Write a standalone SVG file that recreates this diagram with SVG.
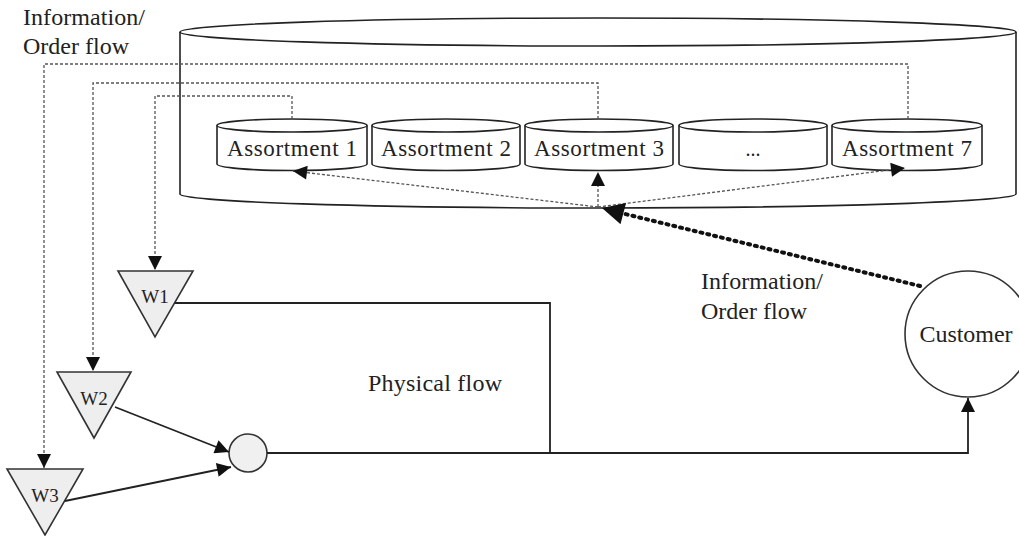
<svg xmlns="http://www.w3.org/2000/svg" width="1019" height="536" viewBox="0 0 1019 536">
<defs>
<style>
.t{font-family:"Liberation Serif","Times New Roman",serif;fill:#222;}
.s{stroke:#222;stroke-width:1.6;fill:#fff;}
.dash{stroke:#555;stroke-width:1.3;fill:none;stroke-dasharray:3 2;}
.solid{stroke:#222;stroke-width:1.8;fill:none;}
.dot{stroke:#111;stroke-width:4;fill:none;stroke-dasharray:2 5;stroke-linecap:round;}
.tri{fill:#eeeeee;stroke:#333;stroke-width:1.6;}
</style>
<marker id="ah" viewBox="0 0 10 10" refX="10" refY="5" markerWidth="16" markerHeight="14" markerUnits="userSpaceOnUse" orient="auto"><path d="M0,0L10,5L0,10z" fill="#111"/></marker>
<marker id="ahb" viewBox="0 0 10 10" refX="10" refY="5" markerWidth="26" markerHeight="22" markerUnits="userSpaceOnUse" orient="auto"><path d="M0,0L10,5L0,10z" fill="#111"/></marker>
</defs>
<g id="warehouse-db">
<path class="s" d="M180,32 V194 A418,14 0 0 0 1016,194 V32"/>
<ellipse class="s" cx="598" cy="32" rx="418" ry="14"/>
</g>
<g id="assortment1">
<path class="s" d="M217,125.5 V164 A75,6.5 0 0 0 367,164 V125.5"/>
<ellipse class="s" cx="292" cy="125.5" rx="75" ry="6.5"/>
<text class="t" x="292" y="156" font-size="23" text-anchor="middle" textLength="130">Assortment 1</text>
</g>
<g id="assortment2">
<path class="s" d="M372,125.5 V164 A74,6.5 0 0 0 520,164 V125.5"/>
<ellipse class="s" cx="446" cy="125.5" rx="74" ry="6.5"/>
<text class="t" x="446" y="156" font-size="23" text-anchor="middle" textLength="130">Assortment 2</text>
</g>
<g id="assortment3">
<path class="s" d="M525,125.5 V164 A74,6.5 0 0 0 673,164 V125.5"/>
<ellipse class="s" cx="599" cy="125.5" rx="74" ry="6.5"/>
<text class="t" x="599" y="156" font-size="23" text-anchor="middle" textLength="130">Assortment 3</text>
</g>
<g id="assortment-more">
<path class="s" d="M679,125.5 V164 A74,6.5 0 0 0 827,164 V125.5"/>
<ellipse class="s" cx="753" cy="125.5" rx="74" ry="6.5"/>
<text class="t" x="753" y="156" font-size="20" text-anchor="middle">...</text>
</g>
<g id="assortment7">
<path class="s" d="M832,125.5 V164 A75,6.5 0 0 0 982,164 V125.5"/>
<ellipse class="s" cx="907" cy="125.5" rx="75" ry="6.5"/>
<text class="t" x="907" y="156" font-size="23" text-anchor="middle" textLength="130">Assortment 7</text>
</g>
<g id="w1">
<polygon class="tri" points="118,271 193,271 155,337"/>
<text class="t" x="155" y="303" font-size="19" text-anchor="middle">W1</text>
</g>
<g id="w2">
<polygon class="tri" points="57,372 131,372 94,438"/>
<text class="t" x="94" y="405" font-size="19" text-anchor="middle">W2</text>
</g>
<g id="w3">
<polygon class="tri" points="7,469 83,469 45,535"/>
<text class="t" x="45" y="502" font-size="19" text-anchor="middle">W3</text>
</g>
<g id="hub">
<circle cx="248" cy="453" r="19" fill="#f0f0f0" stroke="#333" stroke-width="1.6"/>
</g>
<g id="customer">
<circle cx="968" cy="334" r="63" fill="#fff" stroke="#333" stroke-width="1.6"/>
<text class="t" x="966" y="342" font-size="24" text-anchor="middle" textLength="93">Customer</text>
</g>
<g id="connectors">
<path class="dash" d="M292,119 V96 H155 V270" marker-end="url(#ah)"/>
<path class="dash" d="M598,119 V83 H93 V371" marker-end="url(#ah)"/>
<path class="dash" d="M908,119 V64 H44 V468" marker-end="url(#ah)"/>
<path class="dash" d="M598,207 L293,171" marker-end="url(#ah)"/>
<path class="dash" d="M598,207 V172" marker-end="url(#ah)"/>
<path class="dash" d="M598,207 L905,168" marker-end="url(#ah)"/>
<path class="dot" d="M920,286 L625,214"/>
<path d="M625,214 L602,208" stroke="none" fill="none" marker-end="url(#ahb)"/>
<path class="solid" d="M175,303 H550 V453"/>
<path class="solid" d="M267,453 H968 V398" marker-end="url(#ah)"/>
<path class="solid" d="M115,407 L229,452" marker-end="url(#ah)"/>
<path class="solid" d="M65,501 L231,467" marker-end="url(#ah)"/>
</g>
<g id="labels">
<text class="t" font-size="24" x="23" y="25" textLength="122">Information/</text>
<text class="t" font-size="24" x="23" y="54" textLength="106">Order flow</text>
<text class="t" font-size="24" x="701" y="289" textLength="122">Information/</text>
<text class="t" font-size="24" x="701" y="319" textLength="106">Order flow</text>
<text class="t" font-size="24" x="368" y="391" textLength="134">Physical flow</text>
</g>
</svg>
